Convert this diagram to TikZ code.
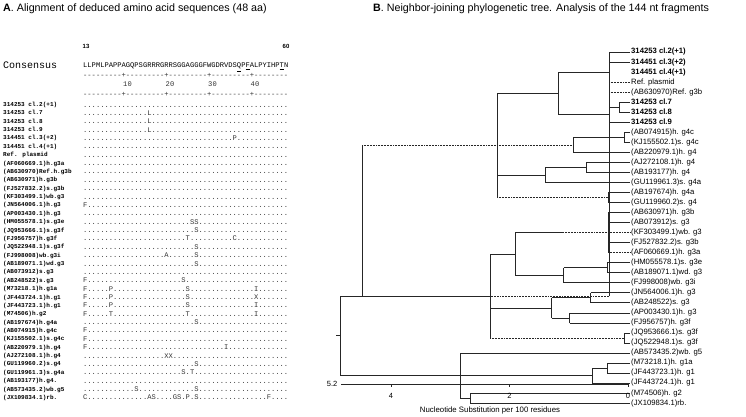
\documentclass[tikz,border=0pt]{standalone}
\usepackage{fontspec}
\setmainfont{Liberation Sans}
\newfontfamily\mono{Liberation Mono}[Ligatures=TeXOff]
\def\Dt{..........}
\def\De{........}
\begin{document}
\begin{tikzpicture}[x=1pt,y=-1pt,
  tl/.style={line width=0.55pt, draw=black!85},
  dl/.style={tl, densely dotted},
  lab/.style={anchor=west, inner xsep=1.2pt, inner ysep=0pt, font=\fontsize{7.7}{9}\selectfont},
  blab/.style={lab, font=\fontsize{7.7}{9}\selectfont\bfseries},
  rowlab/.style={anchor=base west, inner sep=0pt, font=\mono\fontsize{6}{7}\selectfont\bfseries},
  seq/.style={anchor=base west, inner sep=0pt, text=black!80, font=\mono\fontsize{7.12}{8}\selectfont},
  ttl/.style={anchor=base west, inner sep=0pt, font=\fontsize{10.7}{12}\selectfont}]
\useasboundingbox (0,0) rectangle (746,417);
\newcommand\arow[3]{\node[rowlab] (L#1) at (3,{106.5+8.37*#1}) {#2}; \node[seq] (S#1) at (83,{107+8.37*#1}) {#3};}
\newcommand\ttip[3][lab]{\node[#1] (T#2) at (629.8,{52+10.03*#2}) {#3};}
\newcommand\tedge[3][tl]{\draw[tl] (#2) -- (#2|-#3); \draw[#1] (#2|-#3) -- (#3);}
% ---------- titles
\node[ttl] (ta) at (3,12) {\textbf{A}. Alignment of deduced amino acid sequences (48 aa)};
\node[ttl] (tb) at (373,12) {\textbf{B}. Neighbor-joining phylogenetic tree. Analysis of the 144 nt fragments};
% ---------- panel A header
\node[anchor=base, inner sep=0pt, font=\fontsize{6}{7}\selectfont\bfseries] (n13) at (86,48.5) {13};
\node[anchor=base, inner sep=0pt, font=\fontsize{6}{7}\selectfont\bfseries] (n60) at (286,48.5) {60};
\node[anchor=base west, inner sep=0pt, font=\mono\fontsize{10}{11}\selectfont] (cons) at (3,69) {Consensus};
\node[seq, text=black] (cseq) at (83,68) {LLPMLPAPPAGQPSGRRRGRRSGGAGGGFWGDRV{}DS\underline{Q}P\underline{F}ALPYIHP\underline{T}N};
\node[seq] (rul1) at (83,77.5) {{---------+}{---------+}{---------+}{---------+}{--------}};
\node[seq, anchor=base] (r10) at (127.5,86.5) {10};
\node[seq, anchor=base] (r20) at (170,86.5) {20};
\node[seq, anchor=base] (r30) at (212.5,86.5) {30};
\node[seq, anchor=base] (r40) at (255,86.5) {40};
\node[seq] (rul2) at (83,96) {{---------+}{---------+}{---------+}{---------+}{--------}};
% ---------- alignment rows
\arow{0}{314253 cl.2(+1)}{\Dt\Dt\Dt\Dt\De}
\arow{1}{314253 cl.7}{\Dt{.....L....}\Dt\Dt\De}
\arow{2}{314253 cl.8}{\Dt{.....L....}\Dt\Dt\De}
\arow{3}{314253 cl.9}{\Dt{.....L....}\Dt\Dt\De}
\arow{4}{314451 cl.3(+2)}{\Dt\Dt\Dt{.....P....}\De}
\arow{5}{314451 cl.4(+1)}{\Dt\Dt\Dt\Dt\De}
\arow{6}{Ref. plasmid}{\Dt\Dt\Dt\Dt\De}
\arow{7}{(AF060669.1)h.g3a}{\Dt\Dt\Dt\Dt\De}
\arow{8}{(AB630970)Ref.h.g3b}{\Dt\Dt\Dt\Dt\De}
\arow{9}{(AB630971)h.g3b}{\Dt\Dt\Dt\Dt\De}
\arow{10}{(FJ527832.2)s.g3b}{\Dt\Dt\Dt\Dt\De}
\arow{11}{(KF303499.1)wb.g3}{\Dt\Dt\Dt\Dt\De}
\arow{12}{(JN564006.1)h.g3}{{F.........}\Dt\Dt\Dt\De}
\arow{13}{(AP003430.1)h.g3}{\Dt\Dt\Dt\Dt\De}
\arow{14}{(HM055578.1)s.g3e}{\Dt\Dt{.....SS...}\Dt\De}
\arow{15}{(JQ953666.1)s.g3f}{\Dt\Dt{......S...}\Dt\De}
\arow{16}{(FJ956757)h.g3f}{\Dt\Dt{....T.....}{.....C....}\De}
\arow{17}{(JQ522948.1)s.g3f}{\Dt\Dt{......S...}\Dt\De}
\arow{18}{(FJ998008)wb.g3i}{\Dt{.........A}{......S...}\Dt\De}
\arow{19}{(AB189071.1)wd.g3}{\Dt\Dt{......S...}\Dt\De}
\arow{20}{(AB073912)s.g3}{\Dt\Dt\Dt\Dt\De}
\arow{21}{(AB248522)s.g3}{{F.........}\Dt{...S......}\Dt\De}
\arow{22}{(M73218.1)h.g1a}{{F.....P...}\Dt{....S.....}\Dt{I.......}}
\arow{23}{(JF443724.1)h.g1}{{F.....P...}\Dt{....S.....}\Dt{X.......}}
\arow{24}{(JF443723.1)h.g1}{{F.....P...}\Dt{....S.....}\Dt{I.......}}
\arow{25}{(M74506)h.g2}{{F.....T...}\Dt{....T.....}\Dt{I.......}}
\arow{26}{(AB197674)h.g4a}{\Dt\Dt{......S...}\Dt\De}
\arow{27}{(AB074915)h.g4c}{{F.........}\Dt\Dt\Dt\De}
\arow{28}{(KJ155502.1)s.g4c}{{F.........}\Dt\Dt\Dt\De}
\arow{29}{(AB220979.1)h.g4}{{F.........}\Dt\Dt{...I......}\De}
\arow{30}{(AJ272108.1)h.g4}{\Dt{.........X}{X.........}\Dt\De}
\arow{31}{(GU119960.2)s.g4}{\Dt\Dt{......S...}\Dt\De}
\arow{32}{(GU119961.3)s.g4a}{\Dt\Dt{...S.T....}\Dt\De}
\arow{33}{(AB193177)h.g4.}{\Dt\Dt\Dt\Dt\De}
\arow{34}{(AB573435.2)wb.g5}{\Dt{..S.......}{......S...}\Dt\De}
\arow{35}{(JX109834.1)rb.}{{C.........}{.....AS...}{.GS.P.S...}\Dt{...F....}}
% ---------- tree tips
\ttip[blab]{0}{314253 cl.2(+1)}
\ttip[blab]{1}{314451 cl.3(+2)}
\ttip[blab]{2}{314451 cl.4(+1)}
\ttip{3}{Ref. plasmid}
\ttip{4}{(AB630970)Ref. g3b}
\ttip[blab]{5}{314253 cl.7}
\ttip[blab]{6}{314253 cl.8}
\ttip[blab]{7}{314253 cl.9}
\ttip{8}{(AB074915)h. g4c}
\ttip{9}{(KJ155502.1)s. g4c}
\ttip{10}{(AB220979.1)h. g4}
\ttip{11}{(AJ272108.1)h. g4}
\ttip{12}{(AB193177)h. g4}
\ttip{13}{(GU119961.3)s. g4a}
\ttip{14}{(AB197674)h. g4a}
\ttip{15}{(GU119960.2)s. g4}
\ttip{16}{(AB630971)h. g3b}
\ttip{17}{(AB073912)s. g3}
\ttip{18}{(KF303499.1)wb. g3}
\ttip{19}{(FJ527832.2)s. g3b}
\ttip{20}{(AF060669.1)h. g3a}
\ttip{21}{(HM055578.1)s. g3e}
\ttip{22}{(AB189071.1)wd. g3}
\ttip{23}{(FJ998008)wb. g3i}
\ttip{24}{(JN564006.1)h. g3}
\ttip{25}{(AB248522)s. g3}
\ttip{26}{(AP003430.1)h. g3}
\ttip{27}{(FJ956757)h. g3f}
\ttip{28}{(JQ953666.1)s. g3f}
\ttip{29}{(JQ522948.1)s. g3f}
\ttip{30}{(AB573435.2)wb. g5}
\ttip{31}{(M73218.1)h. g1a}
\ttip{32}{(JF443723.1)h. g1}
\ttip{33}{(JF443724.1)h. g1}
\ttip{34}{(M74506)h. g2}
\ttip{35}{(JX109834.1)rb.}
% ---------- internal nodes
\coordinate (nA1) at (609,72.05);
\coordinate (nA78) at (619,107.2);
\coordinate (nA2) at (609,114.7);
\coordinate (nA) at (558,93.4);
\coordinate (nG4c1) at (624,137.25);
\coordinate (nG4c) at (573,144.8);
\coordinate (nG4b1) at (586,167.35);
\coordinate (nG4b) at (545,174.9);
\coordinate (nG4a) at (608,197.45);
\coordinate (K) at (497,145.4);
\coordinate (nG3b) at (608,232.55);
\coordinate (nG3bm) at (563,232.55);
\coordinate (nG3e1) at (607,267.65);
\coordinate (nG3e) at (563.5,275.2);
\coordinate (U) at (515,253.9);
\coordinate (nG3x1) at (590.5,297.75);
\coordinate (nG3x2) at (569.5,317.8);
\coordinate (nG3x) at (551.5,307.8);
\coordinate (nJQ) at (624,337.85);
\coordinate (T2) at (490,295.9);
\coordinate (TT) at (362,295.9);
\coordinate (G1a) at (607,367.95);
\coordinate (G1) at (592,375.5);
\coordinate (MJ) at (470,398.05);
\coordinate (B) at (460,375.5);
\coordinate (R) at (340,335.7);
\coordinate (Rs) at (336,335.7);
% ---------- edges
\tedge{nA1}{T0.west}\tedge{nA1}{T1.west}
\tedge[dl]{nA1}{T2.west}\tedge[dl]{nA1}{T3.west}\tedge[dl]{nA1}{T4.west}
\tedge{nA78}{T5.west}\tedge{nA78}{T6.west}
\tedge{nA2}{nA78}\tedge{nA2}{T7.west}
\tedge{nA}{nA1}\tedge{nA}{nA2}
\tedge{nG4c1}{T8.west}\tedge{nG4c1}{T9.west}
\tedge{nG4c}{nG4c1}\tedge{nG4c}{T10.west}
\tedge{nG4b1}{T11.west}\tedge{nG4b1}{T12.west}
\tedge{nG4b}{nG4b1}\tedge{nG4b}{T13.west}
\tedge{nG4a}{T14.west}\tedge{nG4a}{T15.west}
\tedge{K}{nA}\tedge[dl]{K}{nG4c}\tedge{K}{nG4b}\tedge[dl]{K}{nG4a}
\tedge{nG3b}{T16.west}\tedge{nG3b}{T17.west}\tedge[dl]{nG3b}{T18.west}
\tedge{nG3b}{T19.west}\tedge[dl]{nG3b}{T20.west}
\tedge{nG3e1}{T21.west}\tedge{nG3e1}{T22.west}
\tedge{nG3e}{nG3e1}\tedge{nG3e}{T23.west}
\tedge{U}{nG3bm}\draw[dl] (nG3bm) -- (nG3b);
\tedge{U}{nG3e}
\tedge{nG3x1}{T24.west}\tedge{nG3x1}{T25.west}
\tedge{nG3x2}{T26.west}\tedge{nG3x2}{T27.west}
\tedge{nG3x}{nG3x1}\tedge{nG3x}{nG3x2}
\tedge{nJQ}{T28.west}\tedge{nJQ}{T29.west}
\tedge{T2}{U}\tedge{T2}{nG3x}\tedge[dl]{T2}{nJQ}
\tedge[dl]{TT}{K}\tedge{TT}{T2}
\tedge{G1a}{T31.west}\tedge{G1a}{T32.west}
\tedge{G1}{G1a}\tedge{G1}{T33.west}
\tedge{MJ}{T34.west}\tedge{MJ}{T35.west}
\tedge{B}{T30.west}\tedge{B}{G1}\tedge{B}{MJ}
\tedge{R}{TT}\tedge{R}{B}
\draw[tl] (R) -- (Rs);
% ---------- axis
\coordinate (ax0) at (341,384);
\coordinate (ax1) at (628,384);
\draw[tl] (ax0) -- (ax1);
\foreach \v/\xx in {4/391,2/509.5,0/628}{
  \draw[tl] (\xx,384) -- (\xx,387);
  \node[anchor=base, inner sep=0pt, font=\fontsize{7.5}{8}\selectfont] (tk\v) at (\xx,398) {\v};
}
\node[anchor=east, inner sep=0pt, font=\fontsize{7.5}{8}\selectfont] (s52) at (337.5,384) {5.2};
\node[anchor=base, inner sep=0pt, font=\fontsize{7.8}{9}\selectfont] (axt) at (490,412) {Nucleotide Substitution per 100 residues};
\end{tikzpicture}
\end{document}
